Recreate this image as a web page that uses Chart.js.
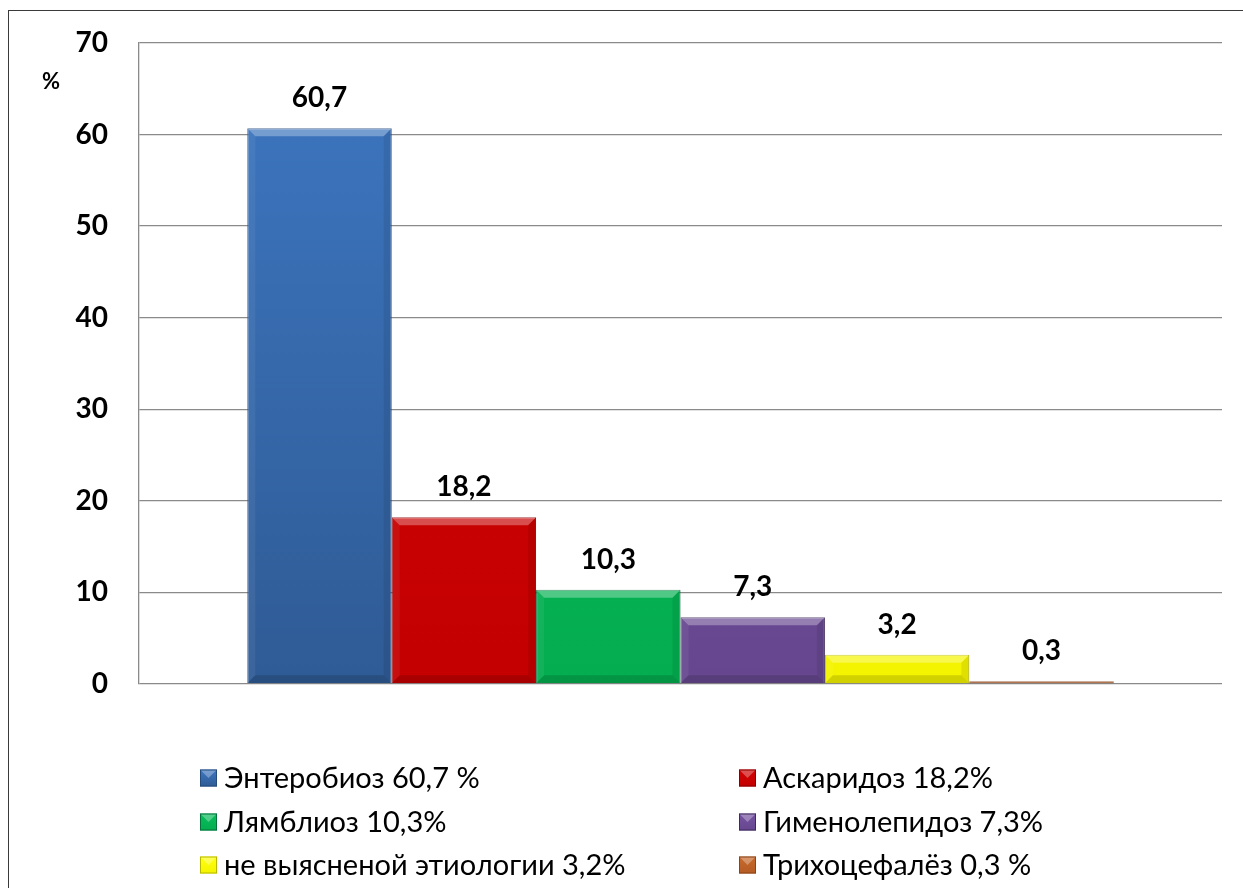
<!DOCTYPE html>
<html lang="ru">
<head>
<meta charset="utf-8">
<title>Структура гельминтозов</title>
<script src="https://cdn.jsdelivr.net/npm/chart.js@4.4.1/dist/chart.umd.min.js"></script>
<style>
  html, body { margin: 0; padding: 0; background: #fff; }
  canvas { display: block; }
</style>
</head>
<body>
<canvas id="myChart" width="1243" height="888"></canvas>
<script>
  // данные
  const names = ['Энтеробиоз 60,7 %', 'Аскаридоз 18,2%', 'Лямблиоз 10,3%', 'Гименолепидоз 7,3%', 'не выясненой этиологии 3,2%', 'Трихоцефалёз 0,3 %'];
  const values = [60.7, 18.2, 10.3, 7.3, 3.2, 0.3];
  const valueLabels = ['60,7', '18,2', '10,3', '7,3', '3,2', '0,3'];
  const yMax = 70;
  const yStep = 10;
  const unitLabel = '%';

  // цвета: верх, низ, обводка
  const topColors = ['#3d77c2', '#d20404', '#07bf5b', '#7753a2', '#ffff10', '#c86a2c'];
  const bottomColors = ['#2f5b95', '#c40000', '#04ad50', '#66478f', '#f4f400', '#b45c24'];
  const edgeColors = ['#254a7c', '#8a0000', '#04703a', '#3f2a5c', '#b8b800', '#8a4418'];

  const FONT = 'Lato, "Open Sans", sans-serif';

  const makeGrad = (ctx, area, i) => {
    const g = ctx.createLinearGradient(0, area.top, 0, area.bottom);
    g.addColorStop(0, topColors[i]);
    g.addColorStop(1, bottomColors[i]);
    return g;
  };

  const datasets = values.map((v, i) => ({
    label: names[i],
    data: [v],
    backgroundColor: (c) => {
      const a = c.chart.chartArea;
      if (!a) return topColors[i];
      return makeGrad(c.chart.ctx, a, i);
    },
    borderColor: edgeColors[i],
    borderWidth: 1,
    categoryPercentage: 0.8,
    barPercentage: 1.0
  }));

  // рамка, подпись "%", фаска, значения над столбиками, легенда
  const extras = {
    id: 'extras',
    beforeDraw(chart) {
      const ctx = chart.ctx;
      ctx.save();
      ctx.strokeStyle = '#3a3a3a';
      ctx.lineWidth = 1;
      ctx.strokeRect(8.5, 10.5, 1400, 1000);
      ctx.restore();
    },
    afterDatasetsDraw(chart) {
      const ctx = chart.ctx;
      ctx.save();
      chart.data.datasets.forEach((ds, i) => {
        const bar = chart.getDatasetMeta(i).data[0];
        const l = bar.x - bar.width / 2, r = bar.x + bar.width / 2;
        const t = bar.y, b = bar.base;
        const h = b - t;
        const s = Math.min(8, h / 2);
        if (h < 2) return;
        // верх светлый
        ctx.fillStyle = 'rgba(255,255,255,0.30)';
        ctx.beginPath();
        ctx.moveTo(l, t); ctx.lineTo(r, t); ctx.lineTo(r - s, t + s); ctx.lineTo(l + s, t + s); ctx.closePath(); ctx.fill();
        // левый
        ctx.fillStyle = 'rgba(255,255,255,0.06)';
        ctx.beginPath();
        ctx.moveTo(l, t); ctx.lineTo(l + s, t + s); ctx.lineTo(l + s, b - s); ctx.lineTo(l, b); ctx.closePath(); ctx.fill();
        // правый
        ctx.fillStyle = 'rgba(0,0,0,0.08)';
        ctx.beginPath();
        ctx.moveTo(r, t); ctx.lineTo(r - s, t + s); ctx.lineTo(r - s, b - s); ctx.lineTo(r, b); ctx.closePath(); ctx.fill();
        // низ
        ctx.fillStyle = 'rgba(0,0,0,0.14)';
        ctx.beginPath();
        ctx.moveTo(l, b); ctx.lineTo(r, b); ctx.lineTo(r - s, b - s); ctx.lineTo(l + s, b - s); ctx.closePath(); ctx.fill();
      });
      // значения
      ctx.fillStyle = '#000';
      ctx.font = 'bold 28px ' + FONT;
      ctx.textAlign = 'center';
      ctx.textBaseline = 'middle';
      chart.data.datasets.forEach((ds, i) => {
        const bar = chart.getDatasetMeta(i).data[0];
        ctx.fillText(valueLabels[i], bar.x, bar.y - 30);
      });
      ctx.restore();
    },
    afterDraw(chart) {
      const ctx = chart.ctx;
      ctx.save();
      ctx.fillStyle = '#000';
      ctx.font = 'bold 22px ' + FONT;
      ctx.textAlign = 'center';
      ctx.textBaseline = 'middle';
      ctx.fillText(unitLabel, 51, 82);

      // легенда в две колонки
      const colX = [200, 739];
      const rowY = [778, 822, 865];
      const box = 17;
      ctx.font = '29px ' + FONT;
      ctx.textAlign = 'left';
      chart.data.datasets.forEach((ds, i) => {
        const x = colX[i % 2], y = rowY[Math.floor(i / 2)];
        const g = ctx.createLinearGradient(0, y - box / 2, 0, y + box / 2);
        g.addColorStop(0, topColors[i]);
        g.addColorStop(1, bottomColors[i]);
        ctx.fillStyle = g;
        ctx.fillRect(x, y - box / 2, box, box);
        ctx.fillStyle = 'rgba(255,255,255,0.3)';
        ctx.beginPath();
        ctx.moveTo(x, y - box / 2); ctx.lineTo(x + box, y - box / 2); ctx.lineTo(x + box / 2, y); ctx.closePath(); ctx.fill();
        ctx.strokeStyle = edgeColors[i];
        ctx.lineWidth = 1;
        ctx.strokeRect(x + 0.5, y - box / 2 + 0.5, box - 1, box - 1);
        ctx.fillStyle = '#000';
        ctx.fillText(ds.label, x + box + 7, y + 1);
      });
      ctx.restore();
    }
  };

  Chart.defaults.plugins.legend.display = false;
  Chart.defaults.plugins.tooltip.enabled = false;

  const myChart = new Chart(document.getElementById('myChart'), {
    type: 'bar',
    data: { labels: [''], datasets: datasets },
    options: {
      responsive: false,
      animation: false,
      layout: { padding: { left: 0, top: 43, right: 21, bottom: 204 } },
      scales: {
        x: { display: false },
        y: {
          min: 0,
          max: yMax,
          afterFit(scale) {
            scale.width = 139;
            scale.paddingTop = 0;
            scale.paddingBottom = 0;
          },
          ticks: {
            stepSize: yStep,
            padding: 31,
            color: '#000',
            font: { family: FONT, size: 28, weight: 'bold' }
          },
          grid: { color: '#8a8a8a', lineWidth: 1.3, drawTicks: false },
          border: { display: true, color: '#8a8a8a', width: 1.3 }
        }
      }
    },
    plugins: [extras]
  });
</script>
</body>
</html>
